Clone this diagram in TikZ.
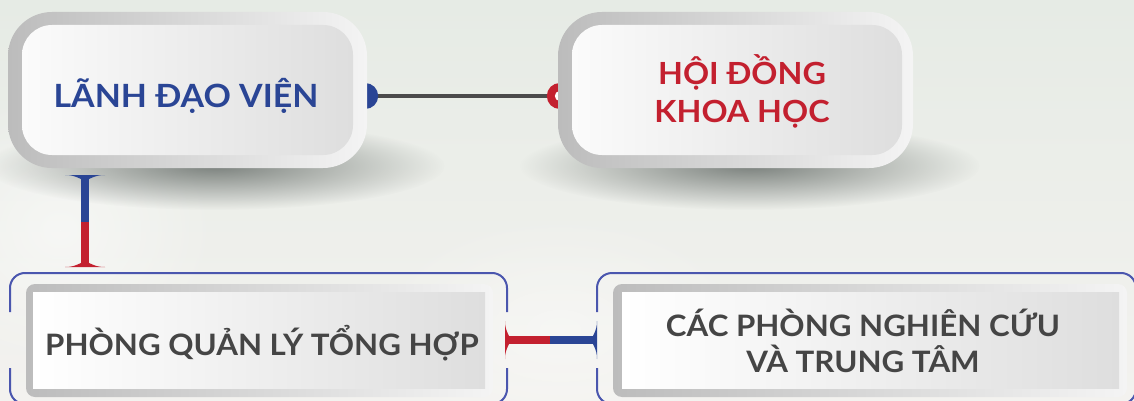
\documentclass[tikz,border=0pt]{standalone}
\usepackage{fontspec}
\setmainfont{Lato}
\newfontfamily\boxfont{Lato}[FakeStretch=1.06]
\usepackage{tikz}
\usetikzlibrary{positioning, calc, backgrounds, fadings}

\definecolor{vienblue}{HTML}{2A4595}
\definecolor{hoired}{HTML}{C3202F}
\definecolor{textgray}{HTML}{454545}
\definecolor{wiregray}{HTML}{4B4B4B}
\definecolor{bracketblue}{HTML}{4A56AE}
\definecolor{frameL}{HTML}{BCBCBC}
\definecolor{frameR}{HTML}{F4F4F4}
\definecolor{faceL}{HTML}{FBFBFB}
\definecolor{faceR}{HTML}{DEDEDE}
\definecolor{bgtop}{HTML}{E6EBE5}
\definecolor{bgbot}{HTML}{F3F2EF}
\definecolor{shadowc}{HTML}{7C827E}

\tikzfading[name=softspot, inner color=transparent!0, outer color=transparent!100]

\pgfdeclarelayer{paper}
\pgfdeclarelayer{wires}
\pgfsetlayers{paper,wires,main}

\begin{document}
\begin{tikzpicture}[
    x=1pt, y=-1pt,
    bigframe/.style={rectangle, rounded corners=44pt, left color=frameL, right color=frameR, inner sep=0pt},
    bigface/.style={rectangle, rounded corners=30pt, left color=faceL, right color=faceR, inner sep=0pt},
    unitframe/.style={rectangle, rounded corners=9pt, left color=frameL, right color=frameR, inner sep=0pt},
    unitface/.style={rectangle, left color=white, right color=faceR, inner sep=0pt},
    headtext/.style={inner sep=0pt, align=center, font=\boxfont\bfseries\fontsize{32}{38}\selectfont},
    unittext/.style={inner sep=0pt, align=center, text=textgray, font=\boxfont\bfseries\fontsize{29.5}{36}\selectfont},
    bracket/.style={draw=bracketblue, line width=2pt, rounded corners=15pt},
    wire/.style={draw=wiregray, line width=3.5pt},
    rod/.style={line width=8pt}
]
    \useasboundingbox (0,0) rectangle (1134,401);

    % paper and soft shadows
    \begin{pgfonlayer}{paper}
        \shade[top color=bgtop, bottom color=bgbot] (0,0) rectangle (1134,401);
        \fill[white, opacity=0.5, path fading=softspot] (60,230) ellipse [x radius=160, y radius=140];
        \fill[white, opacity=0.4, path fading=softspot] (560,330) ellipse [x radius=200, y radius=120];
        \fill[shadowc, path fading=softspot] (215,166) ellipse [x radius=230, y radius=44];
        \fill[shadowc, path fading=softspot] (750,166) ellipse [x radius=230, y radius=44];
    \end{pgfonlayer}

    % top row
    \node[bigframe, minimum width=359pt, minimum height=156pt] (lanhdaoF) at (187.5,90) {};
    \node[bigface, minimum width=331pt, minimum height=130pt] (lanhdaoI) at (187.5,90) {};
    \node[headtext, text=vienblue, anchor=base] (lanhdao) at (186,108) {LÃNH ĐẠO VIỆN};

    \node[bigframe, minimum width=355pt, minimum height=156pt] (hoidongF) at (735.5,90) {};
    \node[bigface, minimum width=330pt, minimum height=130pt] (hoidongI) at (737,90) {};
    \node[headtext, text=hoired, font=\boxfont\bfseries\fontsize{30.5}{38}\selectfont] (hoidong) at (742,91) {HỘI ĐỒNG\\KHOA HỌC};

    % bottom row
    \draw[bracket] (10,312) -- (10,273) -- (507,273) -- (507,312);
    \draw[bracket] (507,368) -- (507,404) -- (10,404) -- (10,368);
    \node[unitframe, minimum width=467pt, minimum height=113pt] (qlthF) at (259.5,340.5) {};
    \node[unitface, minimum width=452pt, minimum height=96pt] (qlthI) at (259,340) {};
    \node[unittext, anchor=base] (qlth) at (262,355) {PHÒNG QUẢN LÝ TỔNG HỢP};

    \draw[bracket] (597,312) -- (597,273) -- (1136,273) -- (1136,312);
    \draw[bracket] (597,368) -- (597,404) -- (1136,404) -- (1136,368);
    \node[unitframe, minimum width=514pt, minimum height=113pt] (pnctF) at (870,340.5) {};
    \node[unitface, minimum width=497pt, minimum height=96pt] (pnctI) at (870.5,340) {};
    \node[unittext] (pnct) at (863,341) {CÁC PHÒNG NGHIÊN CỨU\\VÀ TRUNG TÂM};

    % connector points
    \coordinate (p1) at ($(lanhdaoF.east)+(-2,6)$);
    \coordinate (p2) at ($(hoidongF.west)+(2,6)$);
    \coordinate (vtop) at (85,175);
    \coordinate (vmid) at (85,222);
    \coordinate (vbot) at (85,267);
    \coordinate (qlthR) at (505,340);
    \coordinate (hmid) at (550,340);
    \coordinate (pnctL) at (597,340);

    % lanh dao -- hoi dong
    \begin{pgfonlayer}{wires}
        \draw[wire] (p1) -- (p2);
        \fill[vienblue] (p1) circle[radius=13];
        \fill[hoired] (p2) circle[radius=13];
        \fill[white] (p2) circle[radius=5];
    \end{pgfonlayer}

    % lanh dao -- phong quan ly
    \draw[rod, vienblue] (vtop) -- (vmid);
    \draw[rod, hoired] (vmid) -- (vbot);
    \fill[vienblue] ($(vtop)+(-20,0)$) .. controls ($(vtop)+(-8,0)$) and ($(vtop)+(-5,5)$) .. ($(vtop)+(0,5)$)
        .. controls ($(vtop)+(5,5)$) and ($(vtop)+(8,0)$) .. ($(vtop)+(20,0)$) -- cycle;
    \fill[hoired] ($(vbot)+(-20,0)$) .. controls ($(vbot)+(-8,0)$) and ($(vbot)+(-5,-5)$) .. ($(vbot)+(0,-5)$)
        .. controls ($(vbot)+(5,-5)$) and ($(vbot)+(8,0)$) .. ($(vbot)+(20,0)$) -- cycle;

    % phong quan ly -- cac phong nghien cuu
    \draw[rod, hoired] (qlthR) -- (hmid);
    \draw[rod, vienblue] (hmid) -- (pnctL);
    \fill[hoired] ($(qlthR)+(0,-19)$) .. controls ($(qlthR)+(0,-8)$) and ($(qlthR)+(5,-5)$) .. ($(qlthR)+(5,0)$)
        .. controls ($(qlthR)+(5,5)$) and ($(qlthR)+(0,8)$) .. ($(qlthR)+(0,19)$) -- cycle;
    \fill[vienblue] ($(pnctL)+(0,-19)$) .. controls ($(pnctL)+(0,-8)$) and ($(pnctL)+(-5,-5)$) .. ($(pnctL)+(-5,0)$)
        .. controls ($(pnctL)+(-5,5)$) and ($(pnctL)+(0,8)$) .. ($(pnctL)+(0,19)$) -- cycle;
\end{tikzpicture}
\end{document}
